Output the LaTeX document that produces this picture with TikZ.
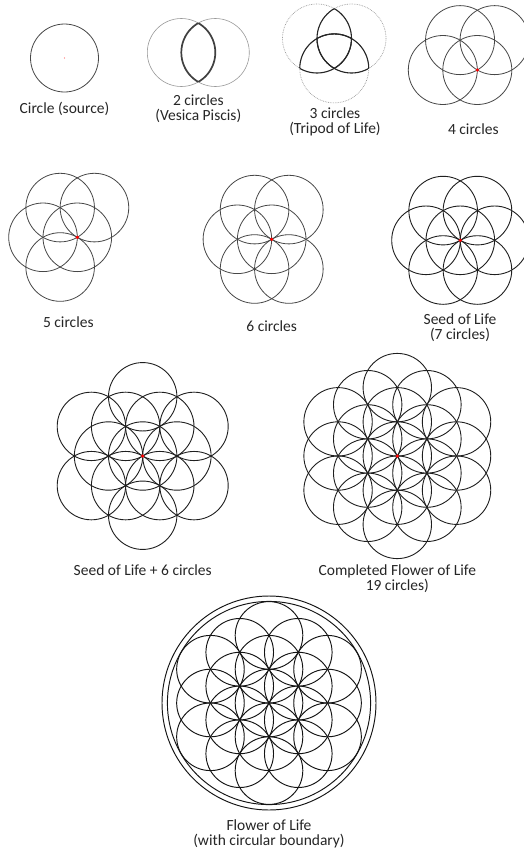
\documentclass[tikz,border=0pt]{standalone}
\usepackage{fontspec}
\setmainfont{Carlito}
\usetikzlibrary{calc}
\begin{document}
\begin{tikzpicture}[x=1pt,y=-1pt,
  ring/.style={draw=black!72, line width=0.8pt},
  ringdark/.style={draw=black!88, line width=0.9pt},
  ringflower/.style={draw=black!92, line width=0.95pt},
  faint/.style={draw=black!40, line width=0.6pt},
  dotring/.style={draw=black!40, line width=0.7pt, densely dotted},
  lens/.style={draw=black!75, line width=1.7pt},
  lensthree/.style={draw=black!85, line width=1.1pt},
  reddot/.style={fill=red, draw=none},
  lab/.style={font=\fontsize{15.5}{17}\selectfont, text=black!85, inner sep=0pt, anchor=base},
  labtwo/.style={font={\fontsize{15.5}{#1}\selectfont\lineskiplimit=-30pt\lineskip=0pt}, text=black!85, inner sep=0pt, anchor=base, align=center}
]
\useasboundingbox (0,0) rectangle (523,854);
\fill[white] (0,0) rectangle (523,854);

% ---------- 1: Circle (source)
\coordinate (c1) at (64.5,58);
\draw[ring] (c1) circle[radius=34pt];
\fill[red!60] (c1) circle[radius=0.7pt];
\node[lab] (l1) at (64.5,113) {Circle (source)};

% ---------- 2: Vesica Piscis
\coordinate (v1) at (181.3,52.5);
\coordinate (v2) at (215.3,52.5);
\draw[faint] (v1) circle[radius=34pt];
\draw[faint] (v2) circle[radius=34pt];
\begin{scope}
  \clip (v2) circle[radius=34pt];
  \draw[lens] (v1) circle[radius=34pt];
\end{scope}
\begin{scope}
  \clip (v1) circle[radius=34pt];
  \draw[lens] (v2) circle[radius=34pt];
\end{scope}
% anchor = baseline of the last line
\node[labtwo=15] (l2) at (198.3,120) {2 circles\\(Vesica Piscis)};

% ---------- 3: Tripod of Life
\coordinate (t1) at (317,38.5);
\coordinate (t2) at (351.5,38.5);
\coordinate (t3) at (334.25,68.4);
\foreach \p in {t1,t2,t3}{\draw[dotring] (\p) circle[radius=34.5pt];}
\begin{scope}
  \clip (t1) circle[radius=34.5pt];
  \draw[lensthree] (t2) circle[radius=34.5pt];
  \draw[lensthree] (t3) circle[radius=34.5pt];
\end{scope}
\begin{scope}
  \clip (t2) circle[radius=34.5pt];
  \draw[lensthree] (t1) circle[radius=34.5pt];
  \draw[lensthree] (t3) circle[radius=34.5pt];
\end{scope}
\begin{scope}
  \clip (t3) circle[radius=34.5pt];
  \draw[lensthree] (t1) circle[radius=34.5pt];
  \draw[lensthree] (t2) circle[radius=34.5pt];
\end{scope}
\node[labtwo=15] (l3) at (335,133.5) {3 circles\\(Tripod of Life)};

% ---------- 4: 4 circles
\coordinate (f4) at (477.3,70);
\draw[ring] (f4) circle[radius=34.5pt];
\foreach \a in {60,120,180}{\draw[ring] ($(f4)+(\a:34.5pt)$) circle[radius=34.5pt];}
\fill[reddot] (f4) circle[radius=1.8pt];
\node[lab] (l4) at (473.3,134.3) {4 circles};

% ---------- 5: 5 circles
\coordinate (f5) at (77.3,237.3);
\draw[ring] (f5) circle[radius=34.3pt];
\foreach \a in {60,120,180,240}{\draw[ring] ($(f5)+(\a:34.3pt)$) circle[radius=34.3pt];}
\fill[reddot] (f5) circle[radius=1.8pt];
\node[lab] (l5) at (68.3,327.7) {5 circles};

% ---------- 6: 6 circles
\coordinate (f6) at (271.7,239.3);
\draw[ring] (f6) circle[radius=34.3pt];
\foreach \a in {60,120,180,240,300}{\draw[ring] ($(f6)+(\a:34.3pt)$) circle[radius=34.3pt];}
\fill[reddot] (f6) circle[radius=1.8pt];
\node[lab] (l6) at (271.7,331) {6 circles};

% ---------- 7: Seed of Life
\coordinate (f7) at (460.3,240.3);
\draw[ringdark] (f7) circle[radius=34.3pt];
\foreach \a in {0,60,...,300}{\draw[ringdark] ($(f7)+(\a:34.3pt)$) circle[radius=34.3pt];}
\fill[reddot] (f7) circle[radius=1.8pt];
\node[labtwo=15] (l7) at (460,339.3) {Seed of Life\\(7 circles)};

% ---------- 8: Seed of Life + 6 circles
\coordinate (f8) at (142.7,456);
\draw[ringdark] (f8) circle[radius=34.2pt];
\foreach \a in {0,60,...,300}{\draw[ringdark] ($(f8)+(\a:34.2pt)$) circle[radius=34.2pt];}
\foreach \a in {30,90,...,330}{\draw[ringdark] ($(f8)+(\a:59.24pt)$) circle[radius=34.2pt];}
\fill[reddot] (f8) circle[radius=1.8pt];
\node[lab] (l8) at (142.7,575) {Seed of Life + 6 circles};

% ---------- 9: Completed Flower of Life
\coordinate (f9) at (397.3,456);
\draw[ringdark] (f9) circle[radius=34.2pt];
\foreach \a in {30,90,...,330}{
  \draw[ringdark] ($(f9)+(\a:34.2pt)$) circle[radius=34.2pt];
  \draw[ringdark] ($(f9)+(\a:68.4pt)$) circle[radius=34.2pt];}
\foreach \a in {0,60,...,300}{\draw[ringdark] ($(f9)+(\a:59.24pt)$) circle[radius=34.2pt];}
\fill[reddot] (f9) circle[radius=1.8pt];
\node[labtwo=15] (l9) at (397.3,590) {Completed Flower of Life\\19 circles)};

% ---------- 10: Flower of Life with boundary
\coordinate (f10) at (269,703);
\draw[ringflower] (f10) circle[radius=33.8pt];
\foreach \a in {30,90,...,330}{
  \draw[ringflower] ($(f10)+(\a:33.8pt)$) circle[radius=33.8pt];
  \draw[ringflower] ($(f10)+(\a:67.6pt)$) circle[radius=33.8pt];}
\foreach \a in {0,60,...,300}{\draw[ringflower] ($(f10)+(\a:58.54pt)$) circle[radius=33.8pt];}
\draw[ringflower] (f10) circle[radius=101.6pt];
\draw[ringflower] (f10) circle[radius=107pt];
\node[labtwo=15] (l10) at (269,845) {Flower of Life\\(with circular boundary)};
\end{tikzpicture}
\end{document}
